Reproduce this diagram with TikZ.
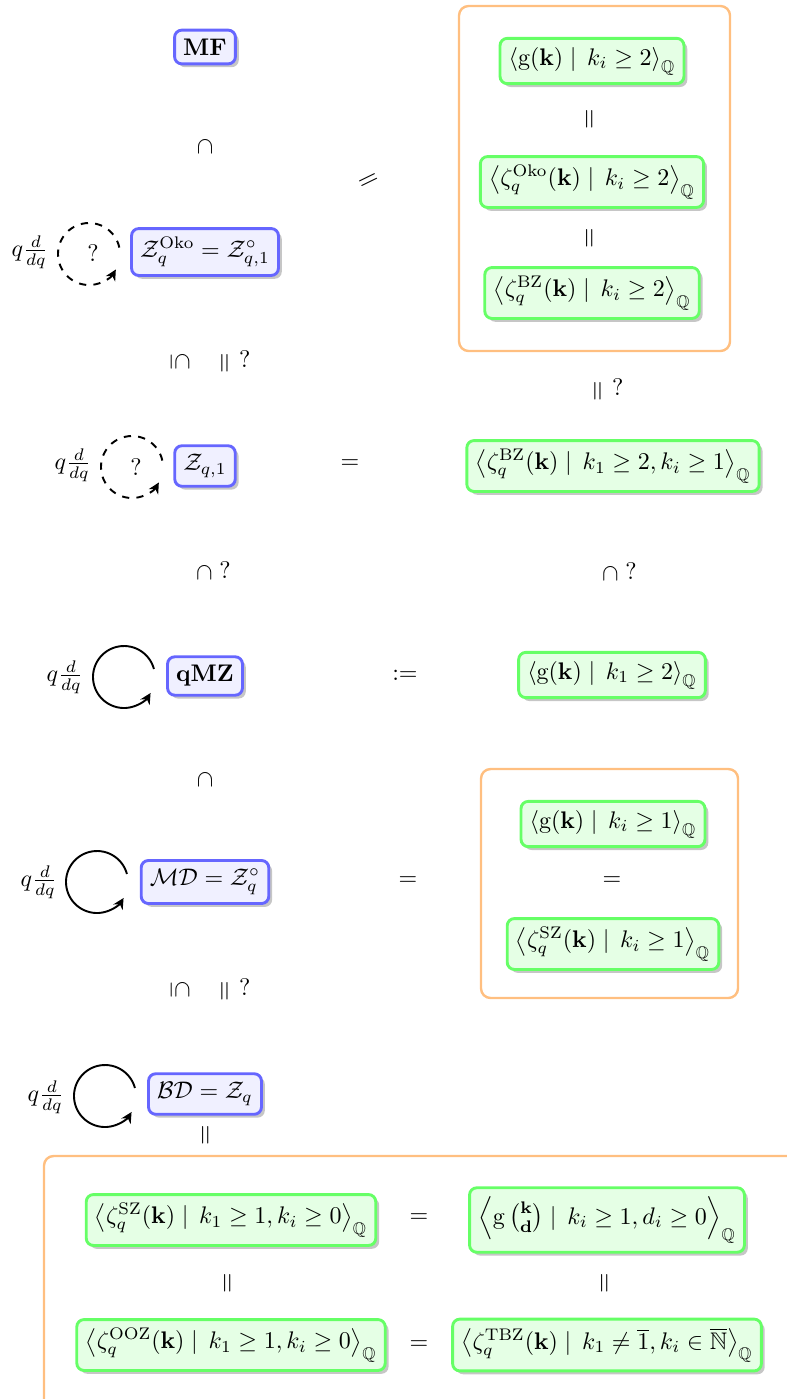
\documentclass[tikz,border=0pt]{standalone}
\usepackage{amsmath,amssymb}
\usepackage{graphicx}
\usetikzlibrary{arrows.meta,shadows}
\newcommand{\veq}{\rotatebox[origin=c]{90}{\scalebox{1.1}{$=$}}}
\newcommand{\vsubeq}{\rotatebox[origin=c]{-90}{$\subseteq$}}
\newcommand{\vsub}{\rotatebox[origin=c]{-90}{$\subset$}}
\begin{document}
\begin{tikzpicture}[x=0.4167pt,y=0.4167pt,
  bluebox/.style={draw=blue!60, fill=blue!6, very thick, rounded corners=3pt, inner sep=3.6pt,
    drop shadow={shadow xshift=1.4pt,shadow yshift=-1.4pt,opacity=0.45}},
  greenbox/.style={draw=green!60, fill=green!10, very thick, rounded corners=3pt, inner sep=3.6pt,
    drop shadow={shadow xshift=1.4pt,shadow yshift=-1.4pt,opacity=0.45}},
  frame/.style={draw=orange!50, line width=1pt, rounded corners=4pt},
  lbl/.style={inner sep=0pt},
  loopar/.style={thick, -{Stealth[length=4.5pt,width=4.5pt]}},
  dloopar/.style={thick, dashed, -{Stealth[length=4.5pt,width=4.5pt]}},
]
\clip (0,0) rectangle (787,-1399);
\useasboundingbox (0,0) rectangle (787,-1399);

% orange frames
\draw[frame] (459,-6) rectangle (730,-351);
\draw[frame] (481,-769) rectangle (738,-998);
\draw[frame] (44,-1156) rectangle (820,-1430);

% left column boxes
\node[bluebox] (mf) at (205,-47) {$\mathbf{MF}$};
\node[bluebox] (oko) at (205,-252) {$\mathcal{Z}_q^{\mathrm{Oko}} = \mathcal{Z}_{q,1}^{\circ}$};
\node[bluebox] (zq1) at (205,-466) {$\mathcal{Z}_{q,1}$};
\node[bluebox] (qmz) at (205,-676) {$\mathbf{qMZ}$};
\node[bluebox] (md) at (205,-882) {$\mathcal{MD} = \mathcal{Z}_q^{\circ}$};
\node[bluebox] (bd) at (205,-1094) {$\mathcal{BD} = \mathcal{Z}_q$};

% derivative loops
\node[lbl] (d1) at (30,-252) {$q\frac{d}{dq}$};
\coordinate (c1) at (89,-254);
\node[lbl] (qm1) at (93,-253) {?};
\draw[dloopar] (c1) ++(12:31) arc[start angle=12, end angle=330, radius=31];

\node[lbl] (d2) at (73,-465) {$q\frac{d}{dq}$};
\coordinate (c2) at (132,-467);
\node[lbl] (qm2) at (136,-467) {?};
\draw[dloopar] (c2) ++(12:31) arc[start angle=12, end angle=330, radius=31];

\node[lbl] (d3) at (65,-677) {$q\frac{d}{dq}$};
\coordinate (c3) at (124,-677);
\draw[loopar] (c3) ++(15:31) arc[start angle=15, end angle=329, radius=31];

\node[lbl] (d4) at (39,-882) {$q\frac{d}{dq}$};
\coordinate (c4) at (97,-882);
\draw[loopar] (c4) ++(15:31) arc[start angle=15, end angle=329, radius=31];

\node[lbl] (d5) at (46,-1097) {$q\frac{d}{dq}$};
\coordinate (c5) at (105,-1096);
\draw[loopar] (c5) ++(15:31) arc[start angle=15, end angle=329, radius=31];

% green boxes
\node[greenbox] (g1) at (592,-61) {$\left\langle \mathrm{g}(\mathbf{k}) \mid\, k_i \geq 2 \right\rangle_{\mathbb{Q}}$};
\node[greenbox] (g2) at (592,-182) {$\left\langle \zeta_q^{\mathrm{Oko}}(\mathbf{k}) \mid\, k_i \geq 2 \right\rangle_{\mathbb{Q}}$};
\node[greenbox] (g3) at (592,-293) {$\left\langle \zeta_q^{\mathrm{BZ}}(\mathbf{k}) \mid\, k_i \geq 2 \right\rangle_{\mathbb{Q}}$};
\node[greenbox] (g4) at (613,-466) {$\left\langle \zeta_q^{\mathrm{BZ}}(\mathbf{k}) \mid\, k_1 \geq 2, k_i \geq 1 \right\rangle_{\mathbb{Q}}$};
\node[greenbox] (g5) at (612,-675) {$\left\langle \mathrm{g}(\mathbf{k}) \mid\, k_1 \geq 2 \right\rangle_{\mathbb{Q}}$};
\node[greenbox] (g6) at (613,-824) {$\left\langle \mathrm{g}(\mathbf{k}) \mid\, k_i \geq 1 \right\rangle_{\mathbb{Q}}$};
\node[greenbox] (g7) at (613,-944) {$\left\langle \zeta_q^{\mathrm{SZ}}(\mathbf{k}) \mid\, k_i \geq 1 \right\rangle_{\mathbb{Q}}$};
\node[greenbox] (g8) at (231,-1220) {$\left\langle \zeta_q^{\mathrm{SZ}}(\mathbf{k}) \mid\, k_1 \geq 1, k_i \geq 0 \right\rangle_{\mathbb{Q}}$};
\node[greenbox] (g9) at (607,-1220) {$\left\langle \mathrm{g}\,\tbinom{\mathbf{k}}{\mathbf{d}} \mid\, k_i \geq 1, d_i \geq 0 \right\rangle_{\mathbb{Q}}$};
\node[greenbox] (g10) at (231,-1345) {$\left\langle \zeta_q^{\mathrm{OOZ}}(\mathbf{k}) \mid\, k_1 \geq 1, k_i \geq 0 \right\rangle_{\mathbb{Q}}$};
\node[greenbox] (g11) at (607,-1345) {$\left\langle \zeta_q^{\mathrm{TBZ}}(\mathbf{k}) \mid\, k_1 \neq \overline{1}, k_i \in \overline{\mathbb{N}} \right\rangle_{\mathbb{Q}}$};

% relation symbols
\node[lbl] (r1) at (205,-147) {\vsub};
\node[lbl, rotate=26] (r2) at (369,-182) {\scalebox{1.1}{$=$}};
\node[lbl] (r3) at (591,-119) {\veq};
\node[lbl] (r4) at (591,-238) {\veq};
\node[lbl] (r5) at (180,-362) {\vsubeq};
\node[lbl] (r6) at (236,-362) {\veq\,\,?};
\node[lbl] (r7) at (609,-390) {\veq\,\,?};
\node[lbl] (r8) at (350,-464) {$=$};
\node[lbl] (r9) at (214,-572) {\vsub~?};
\node[lbl] (r10) at (620,-573) {\vsub~?};
\node[lbl] (r11) at (405,-675) {$:=$};
\node[lbl] (r12) at (205,-780) {\vsub};
\node[lbl] (r13) at (408,-881) {$=$};
\node[lbl] (r14) at (612,-881) {$=$};
\node[lbl] (r15) at (180,-990) {\vsubeq};
\node[lbl] (r16) at (236,-990) {\veq\,\,?};
\node[lbl] (r17) at (207,-1135) {\veq};
\node[lbl] (r18) at (419,-1218) {$=$};
\node[lbl] (r19) at (229,-1283) {\veq};
\node[lbl] (r20) at (606,-1283) {\veq};
\node[lbl] (r21) at (419,-1345) {$=$};
\end{tikzpicture}
\end{document}
